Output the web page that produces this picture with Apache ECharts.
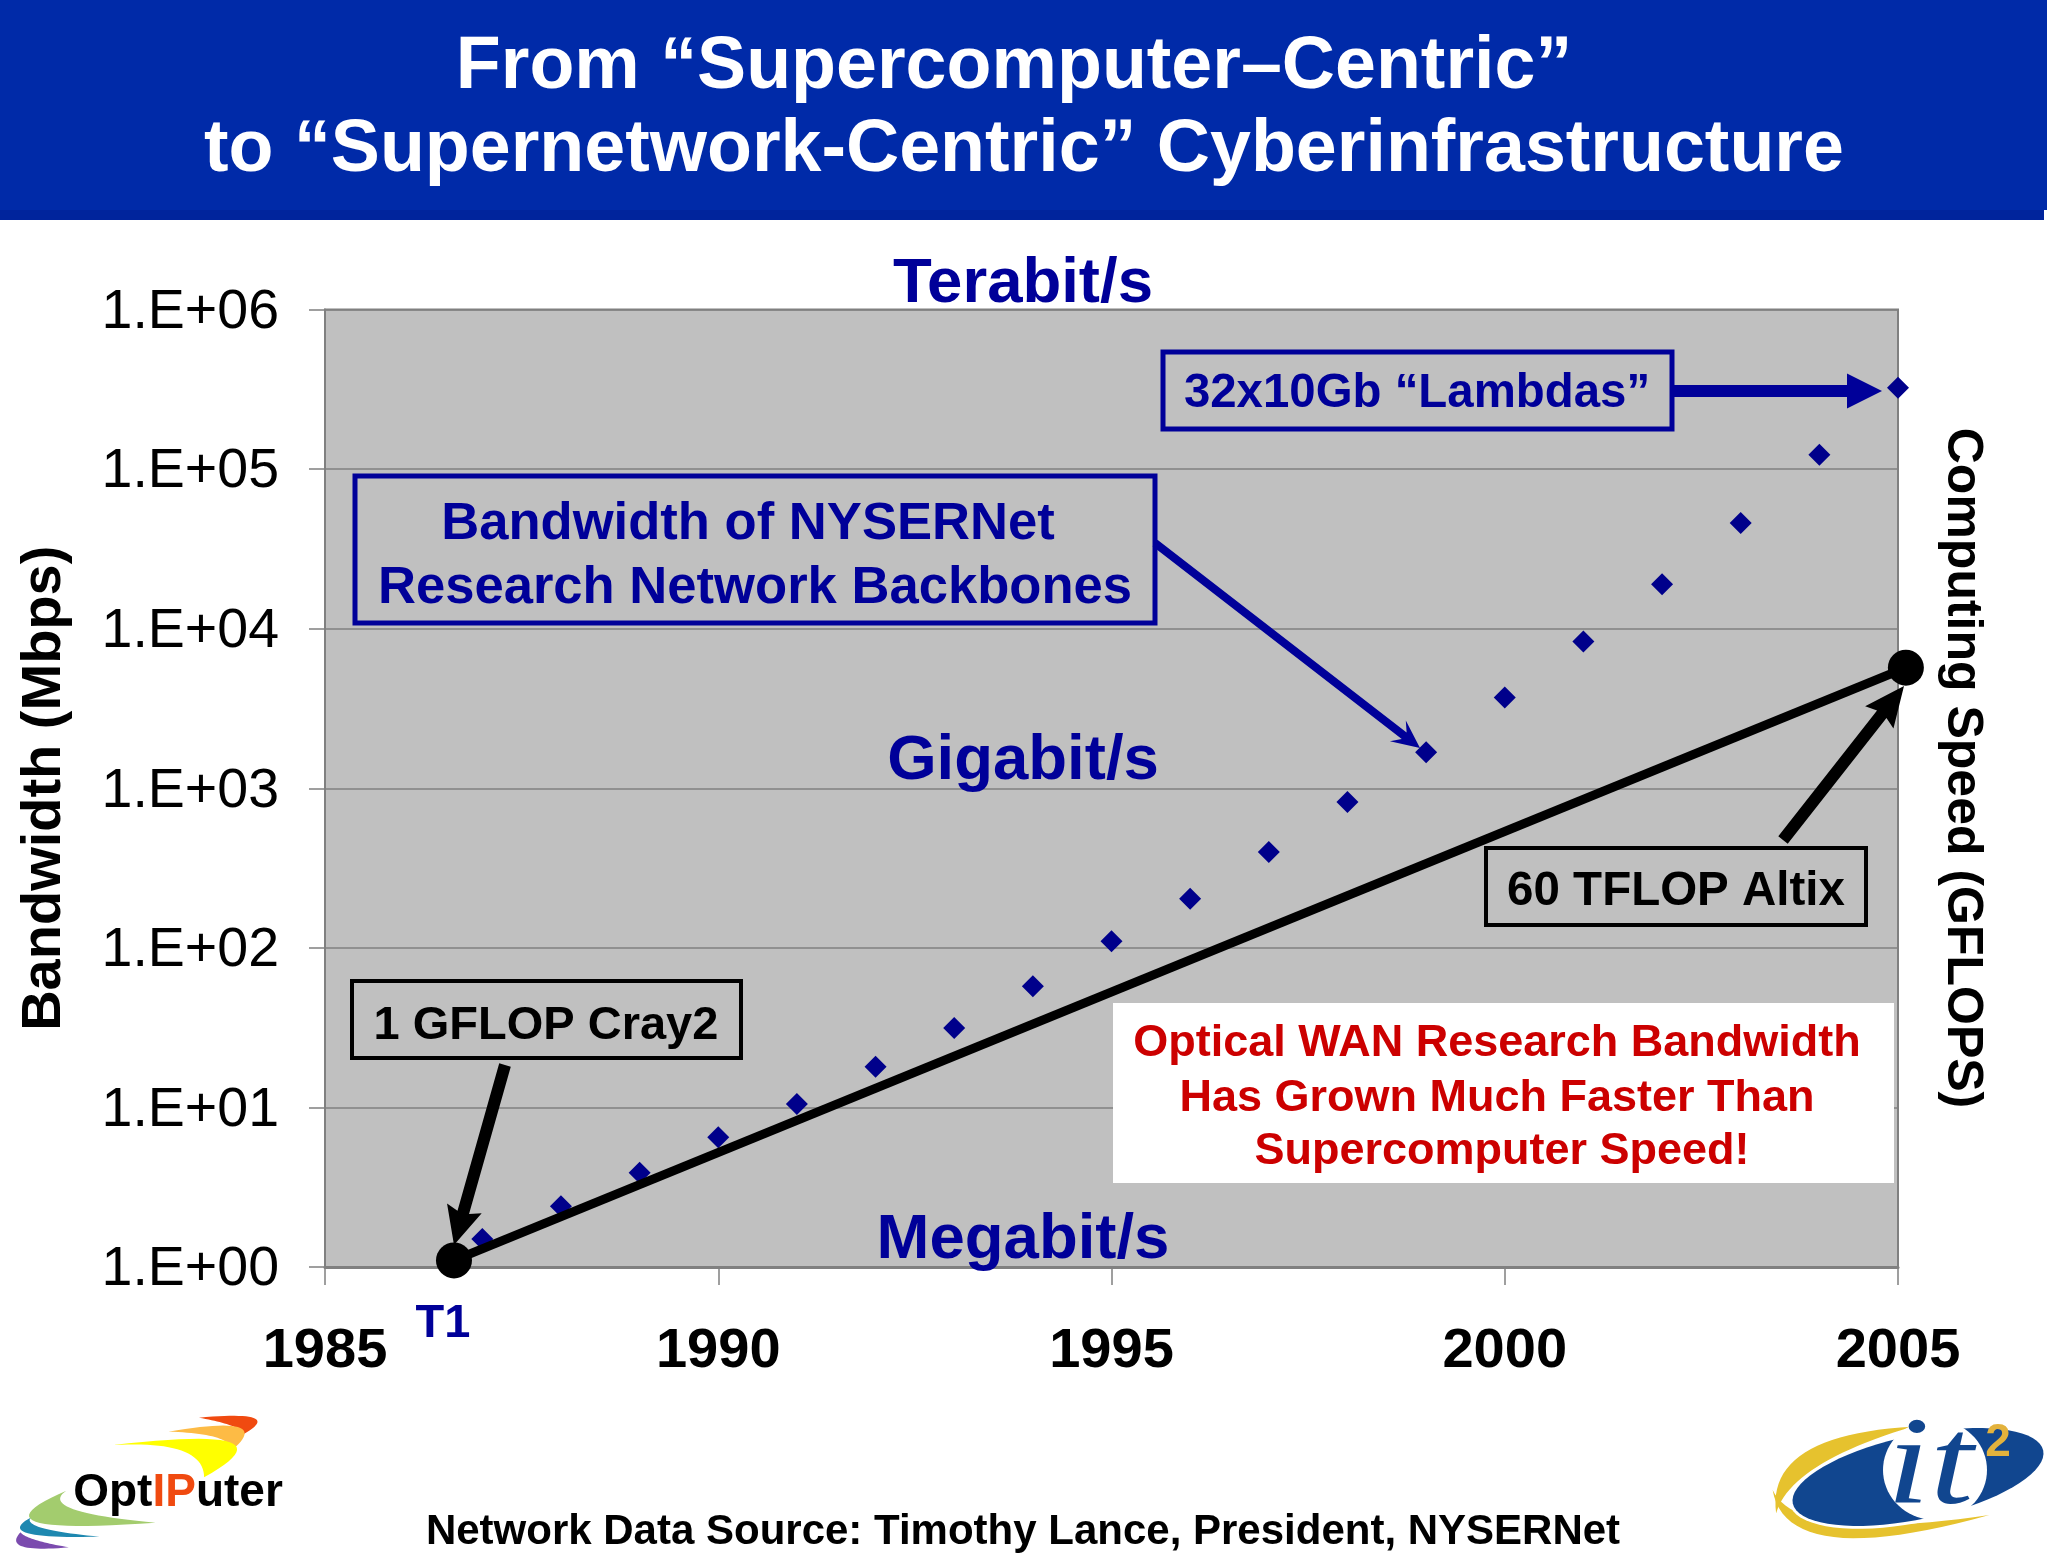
<!DOCTYPE html>
<html><head><meta charset="utf-8">
<style>html,body{margin:0;padding:0;background:#fff}#c{width:2048px;height:1553px}</style>
<script src="https://cdn.jsdelivr.net/npm/echarts@6/dist/echarts.min.js"></script>
</head><body><div id="c"></div>
<script>
const titleLines = ['From “Supercomputer–Centric”', 'to “Supernetwork-Centric” Cyberinfrastructure'];
const years = [1987,1988,1989,1990,1991,1992,1993,1994,1995,1996,1997,1998,1999,2000,2001,2002,2003,2004,2005];
const bandwidth = [1.5,2.4,3.9,6.5,10.5,18,31.5,57.5,110,203,398,820,1680,3700,8300,19000,46000,123000,323000];
const computingX = [1986.64,2005.1];
const computingY = [1.1,5700];
const yTicks = ['1.E+00','1.E+01','1.E+02','1.E+03','1.E+04','1.E+05','1.E+06'];

const FONT='"Liberation Sans",Arial,sans-serif', NAVY='#00008B', BOX='#000099';
function txt(text,x,y,size,fill,opt){opt=opt||{};return {type:'text',x,y,rotation:opt.rot||0,z:opt.z||20,scaleX:opt.sx||1,scaleY:opt.sy||1,silent:true,
 style:{text,fill,fontFamily:opt.family||FONT,fontWeight:opt.weight||'bold',fontStyle:opt.style||'normal',fontSize:size,align:'center',textAlign:'center',verticalAlign:'middle',textVerticalAlign:'middle',rich:opt.rich}};}
function box(x0,y0,x1,y1,stroke,lw){return {type:'rect',z:15,silent:true,shape:{x:x0,y:y0,width:x1-x0,height:y1-y0},style:{fill:'rgba(0,0,0,0)',stroke,lineWidth:lw}};}
function arrow(sx,sy,tx,ty,w,hl,hw,fill,notch){const dx=tx-sx,dy=ty-sy,L=Math.hypot(dx,dy),ux=dx/L,uy=dy/L,nx=-uy,ny=ux;notch=notch||0;
 const P=(a,b)=>[sx+ux*a+nx*b,sy+uy*a+ny*b];
 return {type:'polygon',z:16,silent:true,shape:{points:[P(0,-w/2),P(L-hl+notch,-w/2),P(L-hl,-hw/2),P(L,0),P(L-hl,hw/2),P(L-hl+notch,w/2),P(0,w/2)]},style:{fill}};}
function crescent(a,c1,b,c2,fill,conv,z){const pts=[];const q=(p,c,r,t)=>[(1-t)*(1-t)*p[0]+2*t*(1-t)*c[0]+t*t*r[0],(1-t)*(1-t)*p[1]+2*t*(1-t)*c[1]+t*t*r[1]];
 for(let i=0;i<=24;i++)pts.push(conv(q(a,c1,b,i/24)));for(let i=24;i>=0;i--)pts.push(conv(q(a,c2,b,i/24)));
 return {type:'polygon',z:z||14,silent:true,shape:{points:pts},style:{fill}};}
function ellipse(cx,cy,a,b,rot,fill,z){const pts=[];for(let i=0;i<72;i++){const t=i/72*2*Math.PI,x=a*Math.cos(t),y=b*Math.sin(t);pts.push([cx+x*Math.cos(rot)-y*Math.sin(rot),cy+x*Math.sin(rot)+y*Math.cos(rot)]);}
 return {type:'polygon',z:z||15,silent:true,shape:{points:pts},style:{fill}};}
const L1=p=>[p[0]/1.96,1150+p[1]/3];
const L2=p=>[1500+p[0]/2.861,1250+p[1]/3];

const graphics=[
 {type:'rect',z:10,silent:true,shape:{x:0,y:0,width:2047,height:210},style:{fill:'#002AA8'}},
 {type:'rect',z:10,silent:true,shape:{x:0,y:210,width:2044,height:10},style:{fill:'#00249C'}},
 txt(titleLines[0],1014,68,73.6,'#fff'),
 txt(titleLines[1],1024,151,73.6,'#fff'),
 txt('Terabit/s',1023,284,63.5,BOX),
 txt('Gigabit/s',1023,761,63.5,BOX),
 txt('Megabit/s',1023,1240,63.5,BOX),
 txt('T1',443,1324,47,BOX),
 {type:'rect',z:12,silent:true,shape:{x:1113,y:1003,width:781,height:180},style:{fill:'#fff'}},
 txt('Optical WAN Research Bandwidth',1497,1044,45,'#CC0000'),
 txt('Has Grown Much Faster Than',1497,1099,45,'#CC0000'),
 txt('Supercomputer Speed!',1502,1152,45,'#CC0000'),
 box(1163,352,1672,429,BOX,5),
 txt('32x10Gb “Lambdas”',1417,394,47.4,BOX),
 arrow(1672,391,1882,391,12,35,35,BOX),
 box(355,476,1155,623,BOX,5),
 txt('Bandwidth of NYSERNet',748,524,52.6,BOX),
 txt('Research Network Backbones',755,588,52.6,BOX),
 arrow(1155,543,1420,748,8,28,26,BOX,8),
 box(352,981,741,1058,'#000',4),
 txt('1 GFLOP Cray2',546,1026,47,'#000'),
 arrow(505,1065,454,1245,12,38,36,'#000',4),
 box(1486,848,1866,925,'#000',4),
 txt('60 TFLOP Altix',1676,892,47.5,'#000'),
 arrow(1783,840,1904,686,12,40,36,'#000',4),
 txt('Computing Speed (GFLOPS)',1962,768,50,'#000',{rot:-Math.PI/2}),
 txt('Network Data Source: Timothy Lance, President, NYSERNet',1023,1532,42,'#000'),
 crescent([390,803],[560,780],[478,852],[470,825],'#F04A10',L1),
 crescent([330,845],[540,790],[455,900],[450,850],'#FDBB45',L1),
 crescent([222,885],[590,820],[400,982],[400,870],'#FFFF00',L1),
 crescent([130,1022],[-78,1160],[305,1118],[70,1085],'#A3CC6E',L1),
 crescent([60,1103],[-18,1168],[195,1160],[42,1138],'#1E88B0',L1),
 crescent([40,1147],[2,1210],[135,1192],[52,1170],'#7B4BAE',L1),
 {type:'text',x:178,y:1493,z:20,silent:true,style:{text:'{a|Opt}{b|IP}{a|uter}',align:'center',textAlign:'center',verticalAlign:'middle',textVerticalAlign:'middle',
   rich:{a:{fontFamily:FONT,fontWeight:'bold',fontSize:46,fill:'#000',color:'#000'},b:{fontFamily:FONT,fontWeight:'bold',fontSize:46,fill:'#F04A10',color:'#F04A10'}}}},
 crescent([1180,530],[760,555],[790,790],[830,640],'#E6C22E',L2,11),
 crescent([780,720],[820,965],[1400,795],[850,880],'#E6C22E',L2,11),
 ellipse(1918,1477,131,45,-12*Math.PI/180,'#fff',12),
 ellipse(1918,1477,128,42,-12*Math.PI/180,'#11468F',13),
 ellipse(1935,1470,52,50,0,'#fff',14),
 txt('it',1930,1470,125,'#11468F',{family:'"Liberation Serif",serif',style:'italic',weight:'normal',sx:1.25}),
 txt('2',1998,1443,46,'#E3B23C')
];

const option={
 animation:false,
 backgroundColor:'#fff',
 grid:{left:325,top:309.5,width:1573,height:957.5,show:true,backgroundColor:'#C0C0C0',borderColor:'#808080',borderWidth:2,containLabel:false,outerBoundsMode:'none'},
 xAxis:{type:'value',min:1985,max:2005,interval:5,
  axisLine:{show:true,onZero:false,lineStyle:{color:'#808080',width:3}},
  axisTick:{show:true,length:18,lineStyle:{color:'#808080',width:1.5}},
  axisLabel:{margin:57,fontFamily:FONT,fontWeight:'bold',fontSize:56,color:'#000',formatter:v=>String(v),showMaxLabel:true,showMinLabel:true},
  splitLine:{show:false}},
 yAxis:{type:'log',logBase:10,min:1,max:1000000,
  name:'Bandwidth (Mbps)',nameLocation:'middle',nameGap:252,nameRotate:90,
  nameTextStyle:{fontFamily:FONT,fontWeight:'bold',fontSize:56,color:'#000'},
  axisLine:{show:true,onZero:false,lineStyle:{color:'#808080',width:2}},
  axisTick:{show:true,length:16,lineStyle:{color:'#808080',width:1.5}},
  minorTick:{show:false},
  axisLabel:{margin:46,fontFamily:FONT,fontSize:55.5,color:'#000',
   formatter:v=>'{t|'+yTicks[Math.round(Math.log10(v))]+'}',
   rich:{t:{fontFamily:FONT,fontSize:55.5,color:'#000',padding:[6,0,0,0]}}},
  splitLine:{show:true,lineStyle:{color:'#808080',width:1.5}}},
 graphic:{elements:graphics},
 series:[
  {name:'Bandwidth',type:'scatter',symbol:'diamond',symbolSize:22,z:3,clip:false,silent:true,
   itemStyle:{color:'#00008B',opacity:1},data:years.map((y,i)=>[y,bandwidth[i]])},
  {name:'Computing',type:'line',symbol:'circle',symbolSize:36,showSymbol:true,showAllSymbol:true,z:5,clip:false,silent:true,
   lineStyle:{color:'#000',width:9},itemStyle:{color:'#000'},data:computingX.map((x,i)=>[x,computingY[i]])}
 ]
};
echarts.init(document.getElementById('c'),null,{renderer:'canvas'}).setOption(option);
</script></body></html>
